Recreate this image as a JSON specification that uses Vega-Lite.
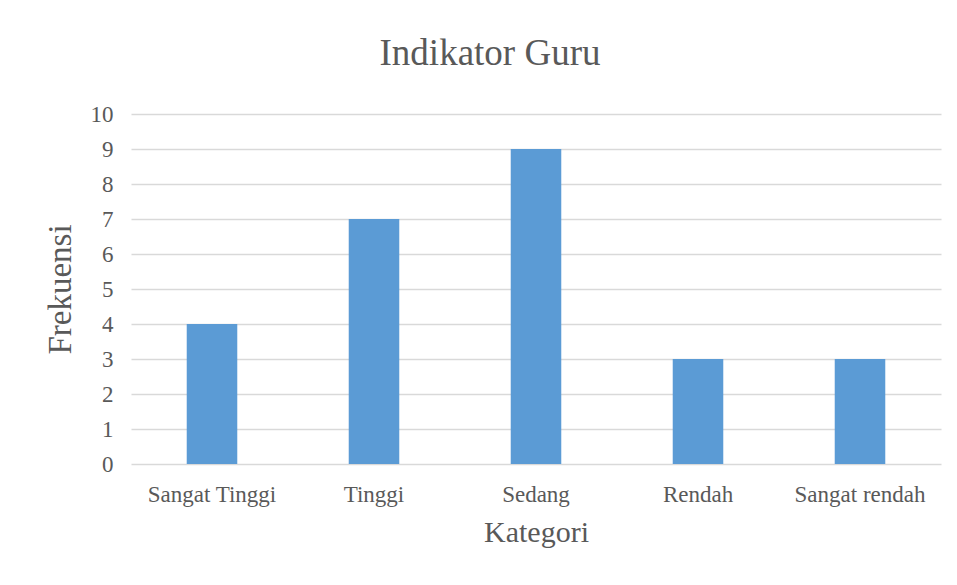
{
  "$schema": "https://vega.github.io/schema/vega-lite/v6.json",
  "width": 810,
  "height": 350,
  "autosize": {"type": "none"},
  "padding": {"left": 131, "top": 114, "right": 16, "bottom": 121},
  "background": "white",
  "title": {
    "text": "Indikator Guru",
    "font": "Liberation Serif",
    "fontSize": 37,
    "fontWeight": "normal",
    "color": "#595959",
    "anchor": "middle",
    "dx": -46,
    "offset": 30
  },
  "data": {
    "values": [
      {"Kategori": "Sangat Tinggi", "Frekuensi": 4},
      {"Kategori": "Tinggi", "Frekuensi": 7},
      {"Kategori": "Sedang", "Frekuensi": 9},
      {"Kategori": "Rendah", "Frekuensi": 3},
      {"Kategori": "Sangat rendah", "Frekuensi": 3}
    ]
  },
  "mark": {"type": "bar", "color": "#5B9BD5"},
  "encoding": {
    "x": {
      "field": "Kategori",
      "type": "nominal",
      "sort": null,
      "scale": {"paddingInner": 0.688, "paddingOuter": 0.344},
      "axis": {
        "labelAngle": 0,
        "domain": false,
        "ticks": false,
        "labelFont": "Liberation Serif",
        "labelFontSize": 23,
        "labelColor": "#595959",
        "labelPadding": 19,
        "title": "Kategori",
        "titleFont": "Liberation Serif",
        "titleFontSize": 30,
        "titleFontWeight": "normal",
        "titleColor": "#595959",
        "titlePadding": 11
      }
    },
    "y": {
      "field": "Frekuensi",
      "type": "quantitative",
      "scale": {"domain": [0, 10]},
      "axis": {
        "values": [0, 1, 2, 3, 4, 5, 6, 7, 8, 9, 10],
        "domain": false,
        "ticks": false,
        "grid": true,
        "gridColor": "#d9d9d9",
        "gridWidth": 1.5,
        "labelFont": "Liberation Serif",
        "labelFontSize": 23,
        "labelColor": "#595959",
        "labelPadding": 18,
        "title": "Frekuensi",
        "titleFont": "Liberation Serif",
        "titleFontSize": 33,
        "titleFontWeight": "normal",
        "titleColor": "#595959",
        "titlePadding": 13
      }
    }
  },
  "config": {"view": {"stroke": null}}
}
